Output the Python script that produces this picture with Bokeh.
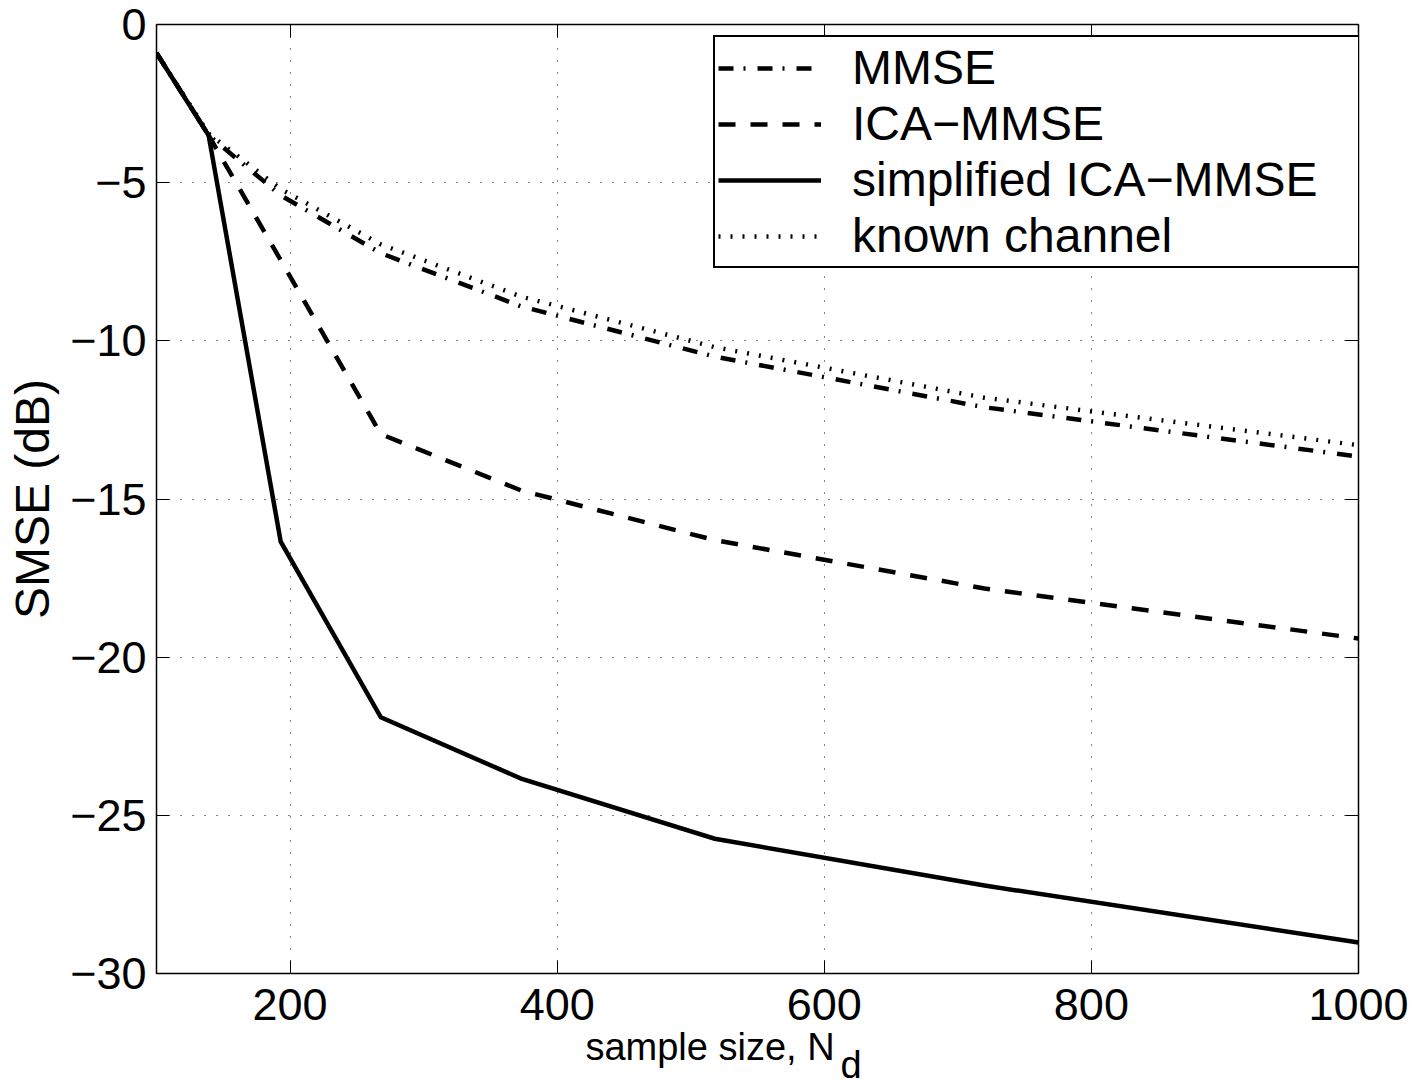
from bokeh.plotting import figure
from bokeh.models import (LinearAxis, FixedTicker, Legend, LegendItem, Range1d)
from bokeh.embed import file_html
from bokeh.resources import INLINE

# ---- data ----
nd = [100, 139, 193, 268, 373, 518, 720, 1000]
smse_mmse = [-0.9, -3.5, -5.4, -7.23, -8.91, -10.5, -12.1, -13.66]
smse_ica = [-0.9, -3.5, -7.45, -12.95, -14.73, -16.3, -17.83, -19.41]
smse_simplified = [-0.9, -3.5, -16.35, -21.9, -23.84, -25.74, -27.22, -29.02]
smse_known = [-0.9, -3.45, -5.2, -6.95, -8.6, -10.2, -11.8, -13.3]

x_ticks = [200, 400, 600, 800, 1000]
y_ticks = [0, -5, -10, -15, -20, -25, -30]
y_tick_labels = ["0", "\u22125", "\u221210", "\u221215", "\u221220", "\u221225", "\u221230"]

series_names = ["MMSE", "ICA\u2212MMSE", "simplified ICA\u2212MMSE", "known channel"]
x_label = "sample size, N"
x_label_sub = "d"
y_label = "SMSE (dB)"

FONT = "Liberation Sans"
TICK_SIZE = "45px"
NB = "\u00a0"

p = figure(width=1418, height=1089, output_backend="svg", toolbar_location=None,
           x_range=Range1d(100, 1000), y_range=Range1d(-30, 0),
           min_border_left=156, min_border_right=60, min_border_top=24,
           min_border_bottom=116)
p.background_fill_color = "white"
p.border_fill_color = "white"
p.outline_line_color = "black"
p.outline_line_width = 1.5

xt = FixedTicker(ticks=x_ticks, minor_ticks=[])
yt = FixedTicker(ticks=y_ticks, minor_ticks=[])

for ax in p.xaxis + p.yaxis:
    ax.major_tick_in = 13
    ax.major_tick_out = 0
    ax.minor_tick_line_color = None
    ax.axis_line_color = "black"
    ax.major_tick_line_color = "black"
    ax.major_label_text_font = FONT
    ax.major_label_text_font_size = TICK_SIZE
    ax.major_label_text_color = "black"
    ax.major_label_standoff = 10

p.xaxis.ticker = xt
p.yaxis.ticker = yt
p.xaxis.major_label_standoff = 15
p.yaxis.major_label_overrides = {v: s for v, s in zip(y_ticks, y_tick_labels)}

p.yaxis.axis_label = y_label
p.yaxis.axis_label_text_font = FONT
p.yaxis.axis_label_text_font_size = "48px"
p.yaxis.axis_label_text_font_style = "normal"
p.yaxis.axis_label_text_color = "black"
p.yaxis.axis_label_standoff = 8

# x label "sample size, N_d": the subscript is a second, tightly spaced line;
# no-break spaces place it after the N and shift the whole label left of centre
line1 = x_label + NB * 9
line2 = NB * 24 + "\u2009" + x_label_sub + NB * 7
p.xaxis.axis_label = line1 + "\n" + line2
p.xaxis.axis_label_text_font = FONT
p.xaxis.axis_label_text_font_size = "38px"
p.xaxis.axis_label_text_font_style = "normal"
p.xaxis.axis_label_text_color = "black"
p.xaxis.axis_label_text_line_height = 0.45
p.xaxis.axis_label_standoff = 3

# top and right axes: ticks only
top = LinearAxis(ticker=xt, major_tick_in=13, major_tick_out=0,
                 minor_tick_line_color=None, major_label_text_color=None,
                 major_label_text_font_size="1px")
right = LinearAxis(ticker=yt, major_tick_in=13, major_tick_out=0,
                   minor_tick_line_color=None, major_label_text_color=None,
                   major_label_text_font_size="1px")
p.add_layout(top, "above")
p.add_layout(right, "right")

p.xgrid.ticker = xt
p.ygrid.ticker = yt
for g in (p.xgrid[0], p.ygrid[0]):
    g.grid_line_color = "black"
    g.grid_line_width = 1
    g.grid_line_dash = "1 11"

LW = 4.5
r_mmse = p.line(nd, smse_mmse, line_color="black", line_width=LW,
                line_dash="15 10 2 12", line_cap="butt")
r_ica = p.line(nd, smse_ica, line_color="black", line_width=LW,
               line_dash="17 15", line_cap="butt")
r_simp = p.line(nd, smse_simplified, line_color="black", line_width=LW,
                line_cap="butt", line_join="miter")
r_known = p.line(nd, smse_known, line_color="black", line_width=LW,
                 line_dash="2 10", line_cap="butt")

legend = Legend(items=[LegendItem(label=series_names[0], renderers=[r_mmse]),
                       LegendItem(label=series_names[1], renderers=[r_ica]),
                       LegendItem(label=series_names[2], renderers=[r_simp]),
                       LegendItem(label=series_names[3], renderers=[r_known])],
                location=(557, 705))
legend.border_line_color = "black"
legend.border_line_alpha = 1
legend.border_line_width = 2
legend.background_fill_color = "white"
legend.background_fill_alpha = 1
legend.label_text_font = FONT
legend.label_text_font_size = "48px"
legend.label_text_color = "black"
legend.glyph_width = 103
legend.glyph_height = 50
legend.label_height = 50
legend.label_width = 504
legend.label_standoff = 31
legend.spacing = 1
legend.padding = 3
legend.margin = 0
p.add_layout(legend)

open("out.html", "w").write(file_html(p, INLINE))
